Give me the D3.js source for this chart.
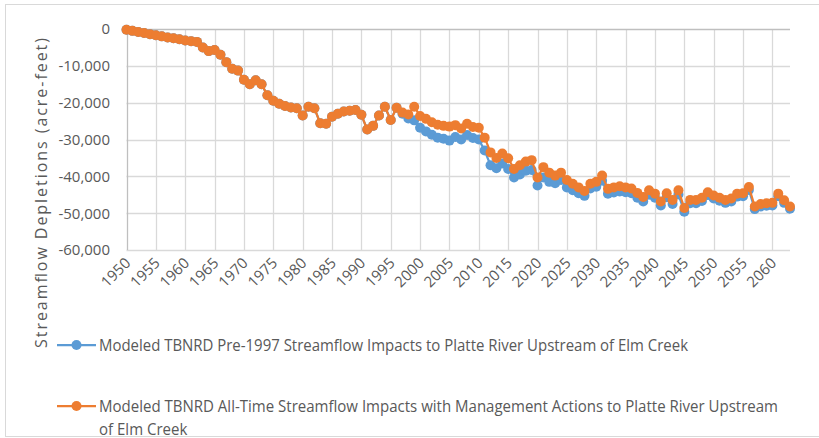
<!DOCTYPE html>
<html>
<head>
<meta charset="utf-8">
<script src="https://cdn.jsdelivr.net/npm/d3@7"></script>
<style>
  html, body { margin: 0; padding: 0; background: #fff; }
  svg { display: block; font-family: "Open Sans", sans-serif; }
</style>
</head>
<body>
<div id="chart"></div>
<script>
// categories: one point per year
const years = d3.range(1950, 2064);

const xTickYears = d3.range(1950, 2061, 5);
const yTicks = [0, -10000, -20000, -30000, -40000, -50000, -60000];

// Modeled TBNRD Pre-1997 (blue)
const pre1997 = [
  -200, -500, -800, -1100, -1400, -1700, -2000, -2300, -2500, -2800,
  -3100, -3300, -3500, -5000, -6000, -5700, -7000, -9000, -10800, -11300,
  -13800, -15000, -13900, -15000, -18000, -19500, -20300, -20900, -21300, -21500,
  -23500, -21100, -21500, -25600, -25700, -23800, -23000, -22400, -22200, -22000,
  -23300, -27300, -26300, -23500, -21100, -24700, -21400, -23000, -24300, -24800,
  -26800, -27800, -28700, -29500, -29800, -30300, -29300, -30000, -28800, -29600,
  -30000, -33000, -37000, -37800, -36500, -38000, -40300, -39500, -38500, -38300,
  -42500, -40300, -41500, -41900, -41000, -43000, -43800, -44600, -45300, -43300,
  -42800, -41200, -44700, -44400, -44100, -44300, -44600, -45800, -46800, -45000,
  -45800, -47900, -45700, -47500, -44900, -49600, -47300, -47300, -46700, -45100,
  -46000, -46600, -47200, -46800, -45500, -45400, -43700, -48900, -48200, -48000,
  -47900, -45400, -47200, -48800
];

// Modeled TBNRD All-Time with Management Actions (orange)
const allTime = [
  -200, -500, -800, -1100, -1400, -1700, -2000, -2300, -2500, -2800,
  -3100, -3300, -3500, -5000, -6000, -5700, -7000, -9000, -10800, -11300,
  -13800, -15000, -13900, -15000, -18000, -19500, -20300, -20900, -21300, -21500,
  -23500, -21100, -21500, -25600, -25700, -23800, -23000, -22400, -22200, -22000,
  -23300, -27300, -26300, -23500, -21100, -24700, -21400, -22700, -23200, -21100,
  -23600, -24400, -25300, -26000, -26300, -26500, -26100, -27000, -25700, -26600,
  -26800, -29500, -33500, -35000, -33800, -35100, -38000, -37000, -36000, -35600,
  -40300, -37500, -39000, -39800, -39000, -41000, -42000, -43000, -44000, -42000,
  -41500, -39800, -43400, -43000, -42700, -43000, -43300, -44500, -45600, -43800,
  -44700, -46800, -44600, -46400, -43800, -48600, -46400, -46400, -45800, -44300,
  -45200, -45800, -46400, -46000, -44700, -44600, -42900, -48200, -47500, -47300,
  -47200, -44700, -46500, -48200
];

const seriesNames = [
  "Modeled TBNRD Pre-1997 Streamflow Impacts to Platte River Upstream of Elm Creek",
  "Modeled TBNRD All-Time Streamflow Impacts with Management Actions to Platte River Upstream",
  "of Elm Creek"
];
const yTitle = "Streamflow Depletions (acre-feet)";

const W = 819, H = 438;
const colors = { blue: "#5B9BD5", orange: "#ED7D31", grid: "#D9D9D9", axis: "#BFBFBF", text: "#595959" };

const svg = d3.select("#chart").append("svg")
  .attr("width", W).attr("height", H);

// outer frame
svg.append("rect")
  .attr("x", 5.5).attr("y", 4.5).attr("width", 830).attr("height", 432)
  .attr("fill", "#fff").attr("stroke", colors.grid).attr("stroke-width", 1);

const x = d3.scaleLinear().domain([1950, 2063]).range([126.5, 790]);
const y = d3.scaleLinear().domain([-60000, 0]).range([250, 29]);

// gridlines
const grid = svg.append("g");
grid.selectAll("line.h").data(yTicks.filter(v => v !== 0)).join("line")
  .attr("x1", x(1950)).attr("x2", x(2063))
  .attr("y1", d => Math.round(y(d)) + 0.5).attr("y2", d => Math.round(y(d)) + 0.5)
  .attr("stroke", colors.grid).attr("stroke-width", 1.3);
grid.selectAll("line.v").data(xTickYears.filter(v => v !== 1950)).join("line")
  .attr("x1", d => Math.round(x(d)) + 0.5).attr("x2", d => Math.round(x(d)) + 0.5)
  .attr("y1", y(0)).attr("y2", y(-60000))
  .attr("stroke", colors.grid).attr("stroke-width", 1.3);

// axis lines
svg.append("line")
  .attr("x1", x(1950)).attr("x2", x(2063))
  .attr("y1", Math.round(y(0)) + 0.5).attr("y2", Math.round(y(0)) + 0.5)
  .attr("stroke", colors.axis).attr("stroke-width", 1.5);
svg.append("line")
  .attr("x1", Math.round(x(1950)) + 0.5).attr("x2", Math.round(x(1950)) + 0.5)
  .attr("y1", y(0)).attr("y2", y(-60000))
  .attr("stroke", colors.axis).attr("stroke-width", 1.3);

// y tick labels
const fmt = d3.format(",");
svg.append("g").selectAll("text").data(yTicks).join("text")
  .attr("x", 110).attr("y", d => y(d)).attr("dy", "0.36em")
  .attr("text-anchor", "end")
  .attr("font-size", 15).attr("fill", colors.text)
  .text(d => fmt(d).replace("\u2212", "-"));

// x tick labels, rotated
svg.append("g").selectAll("text").data(xTickYears).join("text")
  .attr("transform", d => `translate(${x(d) + 5},${264}) rotate(-45)`)
  .attr("text-anchor", "end")
  .attr("font-size", 15).attr("fill", colors.text)
  .text(d => d);

// y title
svg.append("text")
  .attr("transform", "translate(47,193) rotate(-90)")
  .attr("text-anchor", "middle")
  .attr("font-size", 16).attr("fill", colors.text)
  .attr("textLength", 310).attr("lengthAdjust", "spacing")
  .text(yTitle);

// series
const line = d3.line().x((d, i) => x(years[i])).y(d => y(d));
function drawSeries(values, color){
  const g = svg.append("g");
  g.append("path").datum(values)
    .attr("d", line).attr("fill", "none")
    .attr("stroke", color).attr("stroke-width", 2.25).attr("stroke-linejoin", "round");
  g.selectAll("circle").data(values).join("circle")
    .attr("cx", (d, i) => x(years[i])).attr("cy", d => y(d))
    .attr("r", 5).attr("fill", color);
}
drawSeries(pre1997, colors.blue);
drawSeries(allTime, colors.orange);

// legend
const legend = svg.append("g");
const legendItems = [
  { color: colors.blue, cy: 345, lines: [seriesNames[0]], width: 589 },
  { color: colors.orange, cy: 406, lines: [seriesNames[1], seriesNames[2]], width: 679 }
];
legendItems.forEach(item => {
  legend.append("line")
    .attr("x1", 57).attr("x2", 96).attr("y1", item.cy).attr("y2", item.cy)
    .attr("stroke", item.color).attr("stroke-width", 2.25);
  legend.append("circle").attr("cx", 76.5).attr("cy", item.cy).attr("r", 5).attr("fill", item.color);
  let ratio = 1;
  item.lines.forEach((txt, li) => {
    const t = legend.append("text")
      .attr("x", 99).attr("y", item.cy + 5.5 + li * 23)
      .attr("font-size", 16).attr("fill", colors.text)
      .text(txt);
    const natural = t.node().getComputedTextLength();
    if(li === 0) ratio = item.width / natural;
    t.attr("textLength", natural * ratio).attr("lengthAdjust", "spacingAndGlyphs");
  });
});
</script>
</body>
</html>
